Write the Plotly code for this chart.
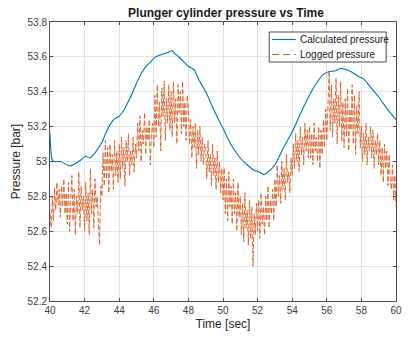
import numpy as np
import plotly.graph_objects as go

# Calculated pressure (smooth) — time [sec], pressure [bar]
calc_t = [40.0, 40.04, 40.1, 40.2, 40.6, 41.0, 41.2, 41.5, 41.8, 42.05, 42.3, 42.6,
          43.0, 43.3, 43.6, 43.8, 44.0, 44.3, 44.7, 45.1, 45.5, 45.8, 46.1, 46.5,
          46.8, 47.05, 47.2, 47.5, 47.8, 48.0, 48.3, 48.6, 49.0, 49.5, 50.0, 50.5,
          51.0, 51.4, 51.8, 52.1, 52.35, 52.6, 53.0, 53.5, 54.0, 54.5, 55.0, 55.4,
          55.8, 56.1, 56.5, 56.8, 57.0, 57.4, 57.8, 58.1, 58.5, 59.0, 59.5, 60.0]
calc_p = [53.16, 53.08, 53.02, 53.00, 53.00, 52.98, 52.975, 52.99, 53.01, 53.03, 53.02, 53.05,
          53.11, 53.18, 53.23, 53.25, 53.26, 53.30, 53.38, 53.47, 53.54, 53.57, 53.60, 53.615,
          53.625, 53.635, 53.62, 53.595, 53.565, 53.545, 53.53, 53.47, 53.40, 53.29, 53.19, 53.09,
          53.02, 52.98, 52.95, 52.94, 52.925, 52.94, 52.98, 53.08, 53.17, 53.28, 53.38, 53.45,
          53.50, 53.515, 53.52, 53.535, 53.53, 53.515, 53.49, 53.475, 53.43, 53.37, 53.30, 53.24]

# Logged pressure (sampled at 15 Hz from t = 40 s), one row per second
log_p = [
    52.70, 52.62, 52.80, 52.66, 52.85, 52.72, 52.88, 52.75, 52.84, 52.68, 52.86, 52.74, 52.90, 52.70, 52.82,
    52.64, 52.88, 52.60, 52.78, 52.92, 52.66, 52.84, 52.58, 52.80, 52.70, 52.94, 52.62, 52.86, 52.72, 52.80,
    52.60, 52.88, 52.66, 52.82, 52.58, 52.96, 52.70, 52.84, 52.62, 52.90, 52.74, 52.80, 52.64, 52.52, 52.86,
    52.80, 53.05, 52.86, 53.12, 52.90, 53.08, 52.82, 53.10, 52.94, 53.04, 52.84, 53.12, 52.92, 53.06, 52.88,
    53.10, 52.90, 53.14, 52.96, 53.08, 52.86, 53.12, 53.00, 53.16, 52.92, 53.06, 52.98, 53.14, 52.94, 53.10,
    53.02, 53.22, 53.06, 53.26, 53.00, 53.18, 53.10, 53.28, 53.04, 53.20, 53.12, 53.24, 52.98, 53.16, 53.22,
    53.08, 53.38, 53.14, 53.44, 53.20, 53.34, 53.06, 53.42, 53.26, 53.46, 53.12, 53.36, 53.22, 53.44, 53.18,
    53.40, 53.14, 53.46, 53.22, 53.36, 53.10, 53.44, 53.28, 53.40, 53.16, 53.46, 53.20, 53.34, 53.12, 53.38,
    53.30, 53.10, 53.24, 53.02, 53.20, 53.08, 53.22, 52.96, 53.18, 53.04, 53.20, 53.00, 53.14, 52.98, 53.10,
    53.08, 52.90, 53.12, 52.94, 53.04, 52.86, 53.10, 52.92, 53.02, 52.84, 53.06, 52.88, 53.00, 52.82, 52.96,
    52.78, 52.96, 52.70, 52.90, 52.66, 52.94, 52.74, 52.86, 52.64, 52.90, 52.70, 52.82, 52.60, 52.88, 52.68,
    52.80, 52.58, 52.76, 52.54, 52.82, 52.62, 52.72, 52.52, 52.78, 52.56, 52.74, 52.40, 52.70, 52.58, 52.76,
    52.60, 52.78, 52.56, 52.82, 52.64, 52.74, 52.58, 52.80, 52.66, 52.86, 52.62, 52.78, 52.70, 52.84, 52.66,
    52.90, 52.74, 52.98, 52.80, 52.92, 52.76, 53.00, 52.84, 52.96, 52.78, 53.04, 52.88, 52.94, 52.82, 53.02,
    52.92, 53.10, 52.96, 53.16, 53.00, 53.12, 52.94, 53.20, 53.04, 53.14, 52.98, 53.22, 53.06, 53.18, 53.02,
    53.20, 53.02, 53.16, 52.98, 53.22, 53.06, 53.14, 53.00, 53.20, 52.96, 53.18, 53.04, 53.24, 53.08, 53.30,
    53.12, 53.40, 53.52, 53.18, 53.44, 53.14, 53.36, 53.22, 53.48, 53.10, 53.38, 53.20, 53.46, 53.12, 53.34,
    53.08, 53.36, 53.14, 53.42, 53.06, 53.30, 53.18, 53.44, 53.10, 53.38, 53.04, 53.32, 53.16, 53.40, 53.08,
    53.20, 53.00, 53.16, 53.04, 53.22, 52.98, 53.14, 53.06, 53.20, 53.02, 53.18, 52.96, 53.12, 53.04, 53.16,
    52.98, 53.12, 52.92, 53.08, 52.88, 53.10, 52.96, 53.06, 52.86, 53.04, 52.90, 52.84, 52.98, 52.78, 52.92,
    52.74,
]
log_rate_hz = 15
log_t0 = 40.0
log_t = [log_t0 + i / log_rate_hz for i in range(len(log_p))]

x_ticks = [40, 42, 44, 46, 48, 50, 52, 54, 56, 58, 60]
y_ticks = [52.2, 52.4, 52.6, 52.8, 53.0, 53.2, 53.4, 53.6, 53.8]
y_tick_text = ["52.2", "52.4", "52.6", "52.8", "53", "53.2", "53.4", "53.6", "53.8"]
series_names = ["Calculated pressure", "Logged pressure"]
series_colors = ["#0072BD", "#D95319"]

FONT = "Liberation Sans, Arial, sans-serif"
AX = "#4d4d4d"

# plot area in pixels (for the in-axes legend box)
PL, PR, PT, PB = 50, 402, 22, 301
def px_x(p): return (p - PL) / (PR - PL)
def px_y(p): return 1 - (p - PT) / (PB - PT)

fig = go.Figure()
fig.add_trace(go.Scatter(x=calc_t, y=calc_p, mode="lines", name=series_names[0],
                         line=dict(color=series_colors[0], width=1.1, shape="spline", smoothing=0.6)))
fig.add_trace(go.Scatter(x=log_t, y=log_p, mode="lines", name=series_names[1],
                         line=dict(color=series_colors[1], width=0.85, dash="5px,2px")))

axis_common = dict(showline=True, linecolor=AX, linewidth=1, mirror="ticks",
                   ticks="inside", ticklen=3, tickcolor=AX,
                   showgrid=True, gridcolor="#e3e3e3", gridwidth=1, zeroline=False,
                   tickfont=dict(family=FONT, size=10, color="#404040"))

# legend box drawn inside the axes, MATLAB-style
shapes = [
    dict(type="rect", xref="paper", yref="paper", x0=px_x(273), x1=px_x(392), y0=px_y(62), y1=px_y(32),
         fillcolor="white", line=dict(color="#333333", width=0.9), layer="above"),
    dict(type="line", xref="paper", yref="paper", x0=px_x(276), x1=px_x(300), y0=px_y(39.5), y1=px_y(39.5),
         line=dict(color=series_colors[0], width=1.1), layer="above"),
    dict(type="line", xref="paper", yref="paper", x0=px_x(276), x1=px_x(300), y0=px_y(54.5), y1=px_y(54.5),
         line=dict(color=series_colors[1], width=1, dash="7px,4px"), layer="above"),
]
annotations = [
    dict(xref="paper", yref="paper", x=px_x(302), y=px_y(39.5), xanchor="left", yanchor="middle",
         text=series_names[0], showarrow=False, font=dict(family=FONT, size=10, color="#1a1a1a")),
    dict(xref="paper", yref="paper", x=px_x(302), y=px_y(54.5), xanchor="left", yanchor="middle",
         text=series_names[1], showarrow=False, font=dict(family=FONT, size=10, color="#1a1a1a")),
]

fig.update_layout(
    width=409, height=342,
    margin=dict(l=PL, r=409 - PR, t=PT, b=342 - PB),
    paper_bgcolor="white", plot_bgcolor="white",
    title=dict(text="<b>Plunger cylinder pressure vs Time</b>", x=(PL + PR) / 2 / 409, xanchor="center",
               y=1 - 13 / 342, yanchor="middle",
               font=dict(family=FONT, size=12, color="#1a1a1a")),
    xaxis=dict(range=[40, 60], tickvals=x_ticks,
               title=dict(text="Time [sec]", font=dict(family=FONT, size=12, color="#262626"), standoff=4),
               **axis_common),
    yaxis=dict(range=[52.2, 53.8], tickvals=y_ticks, ticktext=y_tick_text,
               title=dict(text="Pressure [bar]", font=dict(family=FONT, size=12, color="#262626"), standoff=4),
               **axis_common),
    showlegend=False,
    shapes=shapes,
    annotations=annotations,
)

fig.write_html("out.html")
